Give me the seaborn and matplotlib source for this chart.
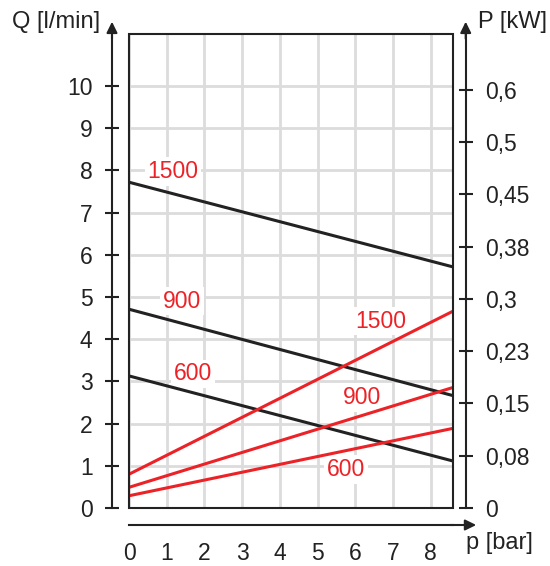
import numpy as np
import matplotlib; matplotlib.use('agg')
import matplotlib.pyplot as plt
from matplotlib.patches import Rectangle
import seaborn as sns


sns.set_style("white")
plt.rcParams['font.family'] = ['Liberation Sans', 'DejaVu Sans']

# pressure range of the lines [bar]
p_bar = [0, 8.6]

# flow Q [l/min] per speed (black)
q_1500 = [7.72, 5.71]
q_900 = [4.71, 2.66]
q_600 = [3.13, 1.11]

# power curves (red), read on the Q scale
pw_1500 = [0.80, 4.67]
pw_900 = [0.49, 2.86]
pw_600 = [0.29, 1.89]

speeds = ['1500', '900', '600']

x_ticks = list(range(9))
q_ticks = list(range(11))
p_labels = ['0', '0,08', '0,15', '0,23', '0,3', '0,38', '0,45', '0,5', '0,6']

BLACK = '#222222'
RED = '#ec2227'
GRID = '#dcdcdc'

fig = plt.figure(figsize=(5.5, 5.66), dpi=100)
ax = fig.add_axes([129 / 550, 1 - 508 / 566, 324.5 / 550, 474 / 566])

ax.set_xlim(0, 8.6)
ax.set_ylim(0, 474 / 42.2)
ax.set_xticks(x_ticks)
ax.set_yticks(q_ticks)
ax.grid(True, color=GRID, lw=2)
ax.set_axisbelow(True)

for q in [q_1500, q_900, q_600]:
    sns.lineplot(x=p_bar, y=q, color=BLACK, lw=2.2, ax=ax, zorder=5)
for pw in [pw_1500, pw_900, pw_600]:
    sns.lineplot(x=p_bar, y=pw, color=RED, lw=2.2, ax=ax, zorder=5)

# curve labels (white box hides the grid behind them)
black_lbl_pos = [(1.17, 7.97), (1.41, 4.90), (1.70, 3.18)]
red_lbl_pos = [(6.67, 4.43), (6.17, 2.62), (5.76, 0.91)]
for name, (x, y) in zip(speeds * 2, black_lbl_pos + red_lbl_pos):
    ax.text(x, y, name, color=RED, fontsize=16.5, ha='center', va='center',
            bbox=dict(fc='white', ec='none', pad=2), zorder=3)

# frame around the plot
ax.add_patch(Rectangle((0, 0), 1, 1, transform=ax.transAxes, fill=False,
                       lw=1.5, ec=BLACK, zorder=6, clip_on=False))

for s in ['top', 'right']:
    ax.spines[s].set_visible(False)
for s in ['left', 'bottom']:
    ax.spines[s].set_position(('outward', 12.2))
    ax.spines[s].set_linewidth(1.5)
    ax.spines[s].set_color(BLACK)
ax.tick_params(direction='inout', length=10, width=1.5, color=BLACK,
               labelsize=16.5, labelcolor=BLACK)
ax.tick_params(axis='y', pad=9)
ax.tick_params(axis='x', pad=7)
ax.set_xlabel('')
ax.set_ylabel('')

# right axis for power
ax2 = ax.twinx()
ax2.set_ylim(0, 474 / 52.3)
ax2.set_yticks(range(len(p_labels)))
ax2.set_yticklabels(p_labels)
for s in ['top', 'left', 'bottom']:
    ax2.spines[s].set_visible(False)
ax2.spines['right'].set_position(('outward', 8.8))
ax2.spines['right'].set_linewidth(1.5)
ax2.spines['right'].set_color(BLACK)
ax2.tick_params(direction='inout', length=10, width=1.5, color=BLACK,
                labelsize=16.5, labelcolor=BLACK, pad=9)
ax2.grid(False)

# arrow heads on the axes
arrow = dict(arrowstyle='-|>,head_length=0.65,head_width=0.32', lw=1.5,
             color=BLACK, shrinkA=0, shrinkB=0)
xl = -17 / 324.5
xr = 1 + 12.2 / 324.5
yb = -17 / 474
ax.annotate('', xy=(xl, 1.026), xytext=(xl, 0.99), xycoords='axes fraction',
            arrowprops=arrow)
ax.annotate('', xy=(xr, 1.026), xytext=(xr, 0.99), xycoords='axes fraction',
            arrowprops=arrow)
ax.annotate('', xy=(1.07, yb), xytext=(0.99, yb), xycoords='axes fraction',
            arrowprops=arrow)

fig.text(100 / 550, 1 - 22 / 566, 'Q [l/min]', ha='right', va='center',
         fontsize=17, color=BLACK)
fig.text(478 / 550, 1 - 22 / 566, 'P [kW]', ha='left', va='center',
         fontsize=17, color=BLACK)
fig.text(466 / 550, 1 - 543 / 566, 'p [bar]', ha='left', va='center',
         fontsize=17, color=BLACK)

fig.savefig('out.png', dpi=100)
